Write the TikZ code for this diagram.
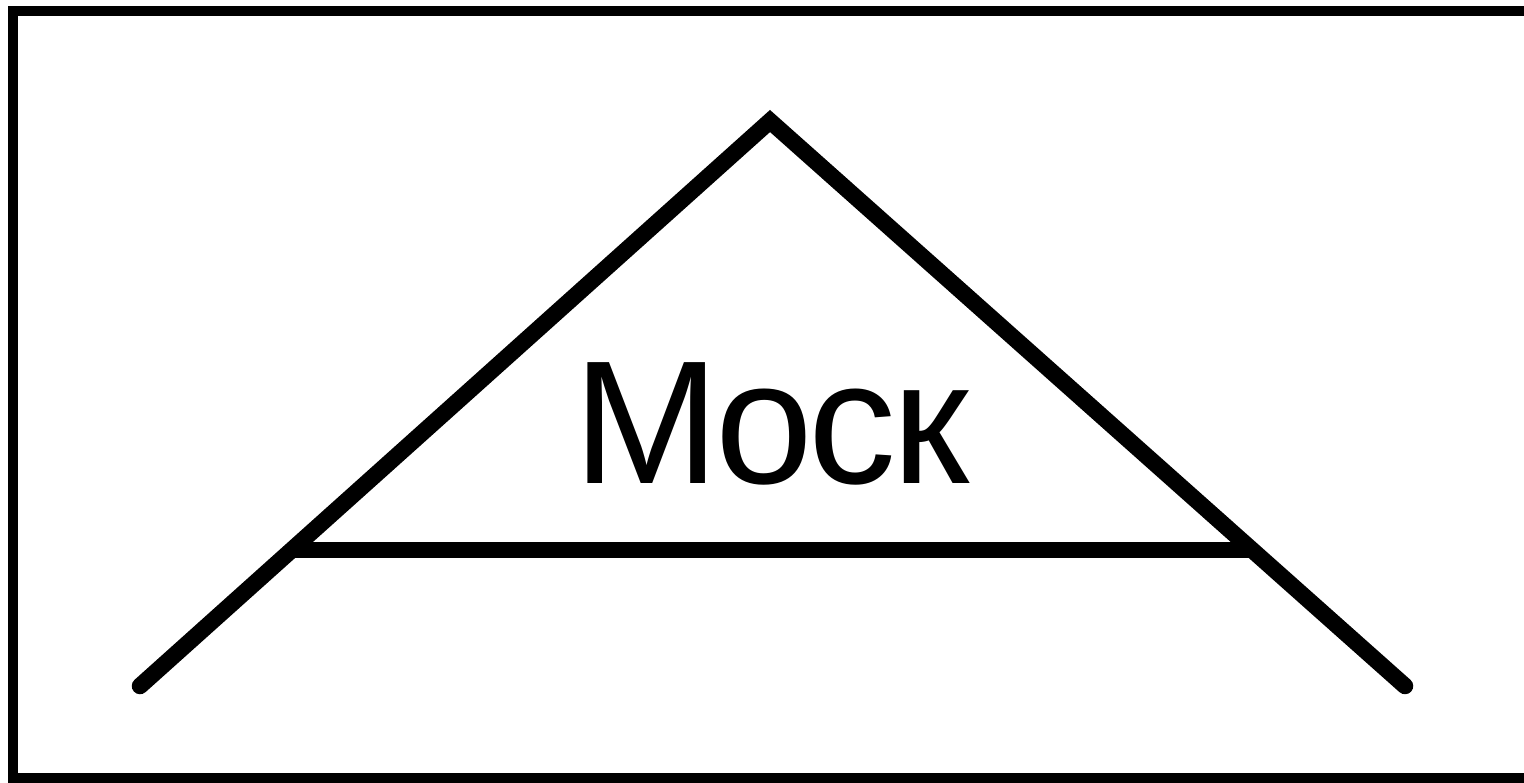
\documentclass[tikz,border=0pt]{standalone}
\usepackage{fontspec}
\setmainfont{Liberation Sans}
\begin{document}
\begin{tikzpicture}[x=0.02cm,y=-0.02cm,
  frameline/.style={line width=0.2cm},
  roofline/.style={line width=0.33cm,line cap=round,line join=miter},
  bigtext/.style={anchor=base west,inner sep=0pt,font=\fontsize{100pt}{100pt}\selectfont}]
\useasboundingbox (0,0) rectangle (1524,782);
\clip (0,0) rectangle (1524,782);
\fill[white] (0,0) rectangle (1524,782);
\draw[frameline] (13,11) -- (1540,11);
\draw[frameline] (13,6) -- (13,778) -- (1540,778);
\coordinate (apex) at (770,121);
\coordinate (lend) at (140,686);
\coordinate (rend) at (1405,686);
\coordinate (bl) at (292,550);
\coordinate (br) at (1251,550);
\draw[roofline] (lend) -- (apex) -- (rend);
\draw[roofline,line cap=butt] (bl) -- (br);
\node[bigtext] (label) at (573,483) {М\kern-0.08cm о\kern-0.09cm с\kern-0.09cm к};
\end{tikzpicture}
\end{document}
